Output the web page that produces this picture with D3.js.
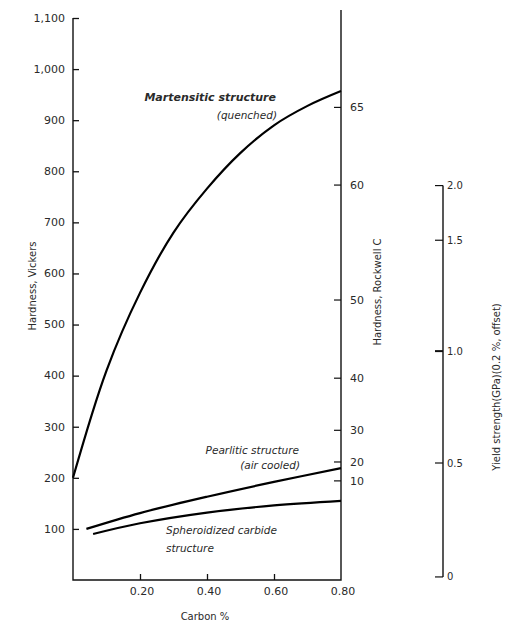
<!DOCTYPE html>
<html>
<head>
<meta charset="utf-8">
<script src="https://cdn.jsdelivr.net/npm/d3@7"></script>
<style>
  body { margin: 0; background: #fff; }
  text { font-family: "DejaVu Sans", sans-serif; fill: #2a2a2a; }
</style>
</head>
<body>
<div class="chart"></div>
<script>
// carbon content (%) vs Vickers hardness
const martensiteC = [0, 0.1, 0.2, 0.3, 0.4, 0.5, 0.6, 0.7, 0.8];
const martensiteHV = [200, 410, 562, 680, 766, 836, 890, 928, 957];
const pearliteC = [0.04, 0.2, 0.4, 0.6, 0.8];
const pearliteHV = [100, 131, 163, 192, 219];
const spheroidC = [0.06, 0.2, 0.4, 0.6, 0.8];
const spheroidHV = [90, 111, 132, 146, 155];

const vickersTicks = [100, 200, 300, 400, 500, 600, 700, 800, 900, 1000, 1100];
const carbonTicks = [0.2, 0.4, 0.6, 0.8];
// Rockwell C ticks and the Vickers value each one sits at
const rockwellTicks = [10, 20, 30, 40, 50, 60, 65];
const rockwellHV = [194, 231, 293, 395, 548, 773, 925];
// yield strength ticks (GPa) and their Vickers equivalents
const yieldTicks = [0, 0.5, 1.0, 1.5, 2.0];
const yieldHV = [6, 229, 448, 665, 772];

const width = 510, height = 627;
const svg = d3.select(".chart").append("svg")
    .attr("width", width).attr("height", height);

const x = d3.scaleLinear().domain([0, 0.8]).range([73, 341]);
const y = d3.scaleLinear().domain([0, 1100]).range([580, 18]);

const rock = d3.scaleLinear().domain(rockwellTicks).range(rockwellHV.map(y));
const ys = d3.scaleLinear().domain(yieldTicks).range(yieldHV.map(y));

// left axis
const left = svg.append("g").attr("transform", `translate(${x(0)},0)`)
    .call(d3.axisRight(y).tickValues(vickersTicks).tickSize(6).tickFormat(""));
left.select(".domain").remove();
left.selectAll("line").attr("stroke", "#111").attr("stroke-width", 1.3);
svg.selectAll(".vlab").data(vickersTicks).join("text")
    .attr("x", 65).attr("y", d => y(d)).attr("dy", "0.35em")
    .attr("text-anchor", "end").attr("font-size", 11)
    .text(d => d3.format(",")(d));

// bottom axis
const bottom = svg.append("g").attr("transform", `translate(0,${y(0)})`)
    .call(d3.axisTop(x).tickValues(carbonTicks.slice(0, 3)).tickSize(6).tickFormat(""));
bottom.select(".domain").remove();
bottom.selectAll("line").attr("stroke", "#111").attr("stroke-width", 1.3);
svg.selectAll(".clab").data(carbonTicks).join("text")
    .attr("x", d => x(d) + 2).attr("y", 595)
    .attr("text-anchor", "middle").attr("font-size", 11)
    .text(d => d3.format(".2f")(d));
svg.append("text").attr("x", 205).attr("y", 620)
    .attr("text-anchor", "middle").attr("font-size", 10).text("Carbon %");

// frame: left, bottom and Rockwell axis lines
svg.append("path")
    .attr("d", `M${x(0)},${y(1100)}V${y(0)}H${x(0.8)}V10`)
    .attr("fill", "none").attr("stroke", "#111").attr("stroke-width", 1.4);

// Rockwell C axis ticks
svg.selectAll(".rtick").data(rockwellTicks).join("line")
    .attr("x1", x(0.8) - 7).attr("x2", x(0.8))
    .attr("y1", d => rock(d)).attr("y2", d => rock(d))
    .attr("stroke", "#111").attr("stroke-width", 1.2);
svg.selectAll(".rlab").data(rockwellTicks).join("text")
    .attr("x", x(0.8) + 9).attr("y", d => rock(d)).attr("dy", "0.35em")
    .attr("font-size", 11).text(d => d);

// yield strength axis
const yx = 443;
svg.append("line").attr("x1", yx).attr("x2", yx)
    .attr("y1", ys(2.0)).attr("y2", ys(0))
    .attr("stroke", "#111").attr("stroke-width", 1.4);
svg.selectAll(".ytick").data(yieldTicks).join("line")
    .attr("x1", yx - 8).attr("x2", yx)
    .attr("y1", d => ys(d)).attr("y2", d => ys(d))
    .attr("stroke", "#111").attr("stroke-width", d => d === 1 ? 2 : 1.2);
svg.selectAll(".ylab").data(yieldTicks).join("text")
    .attr("x", yx + 4).attr("y", d => ys(d)).attr("dy", "0.35em")
    .attr("font-size", 10).text(d => d === 0 ? "0" : d3.format(".1f")(d));

// axis titles
svg.append("text").attr("transform", "translate(36,286) rotate(-90)")
    .attr("text-anchor", "middle").attr("font-size", 10).text("Hardness, Vickers");
svg.append("text").attr("transform", "translate(381,292) rotate(-90)")
    .attr("text-anchor", "middle").attr("font-size", 10).text("Hardness, Rockwell C");
svg.append("text").attr("transform", "translate(500,387) rotate(-90)")
    .attr("text-anchor", "middle").attr("font-size", 10).text("Yield strength(GPa)(0.2 %, offset)");

// curves
const line = d3.line().x(d => x(d[0])).y(d => y(d[1])).curve(d3.curveCatmullRom.alpha(0.5));
const series = [
    d3.zip(martensiteC, martensiteHV),
    d3.zip(pearliteC, pearliteHV),
    d3.zip(spheroidC, spheroidHV)
];
svg.selectAll(".curve").data(series).join("path")
    .attr("d", line)
    .attr("fill", "none").attr("stroke", "#000").attr("stroke-width", 2.2);

// curve labels
const labels = [
    {t: "Martensitic structure", x: 276, y: 101, a: "end", w: "bold"},
    {t: "(quenched)", x: 277, y: 119, a: "end", w: "normal"},
    {t: "Pearlitic structure", x: 299, y: 454, a: "end", w: "normal"},
    {t: "(air cooled)", x: 300, y: 469, a: "end", w: "normal"},
    {t: "Spheroidized carbide", x: 166, y: 534, a: "start", w: "normal"},
    {t: "structure", x: 166, y: 552, a: "start", w: "normal"}
];
svg.selectAll(".lab").data(labels).join("text")
    .attr("x", d => d.x).attr("y", d => d.y)
    .attr("text-anchor", d => d.a)
    .attr("font-size", d => d.w === "bold" ? 11 : 10.5).attr("font-style", "italic")
    .attr("font-weight", d => d.w)
    .text(d => d.t);
</script>
</body>
</html>
